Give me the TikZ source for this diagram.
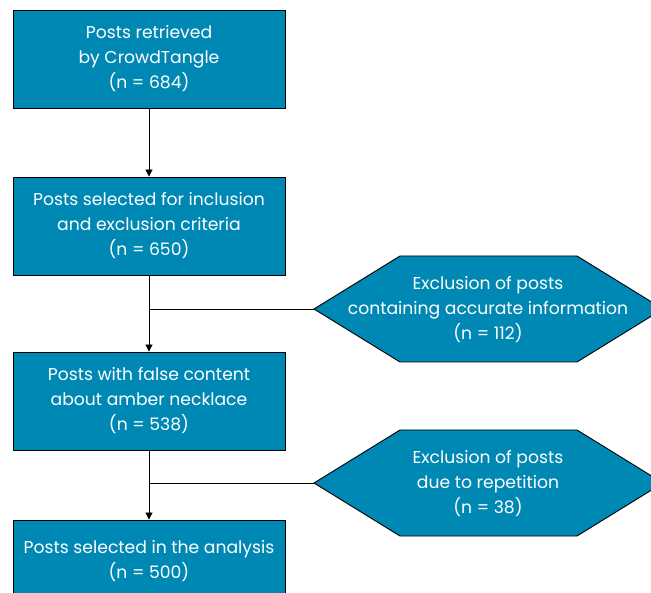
\documentclass[tikz,border=0pt]{standalone}
\usepackage{fontspec}
\setmainfont{Poppins}
\usetikzlibrary{arrows.meta,calc}
\definecolor{boxblue}{RGB}{0,136,181}
\tikzset{
  flowbox/.style={draw=black,line width=0.9pt,fill=boxblue,text=white,minimum width=272pt,minimum height=98pt,inner sep=0pt,align=center,font=\fontsize{17.2}{25}\selectfont},
  hextext/.style={text=white,align=center,inner sep=0pt,font=\fontsize{17.2}{25}\selectfont},
  hexfill/.style={draw=black,line width=0.9pt,fill=boxblue},
  conn/.style={draw=black,line width=0.9pt},
  arr/.style={conn,-{Triangle[length=7pt,width=7pt]}}
}
\begin{document}
\begin{tikzpicture}[x=1pt,y=-1pt]
\useasboundingbox (0,0) rectangle (651,593);
\clip (0,0) rectangle (651,593);
\node[flowbox] (b1) at (149,59) {Posts retrieved\\by CrowdTangle\\(n = 684)};
\node[flowbox] (b2) at (149,226) {Posts selected for inclusion\\and exclusion criteria\\(n = 650)};
\node[flowbox] (b3) at (149,401) {Posts with false content\\about amber necklace\\(n = 538)};
\node[flowbox] (b4) at (149,569) {Posts selected in the analysis\\(n = 500)\\[-6pt]\mbox{}};
% hexagon 1
\coordinate (h1w) at (314,309);
\path[hexfill] (h1w) -- (400,256) -- (577,256) -- (663,309) -- (577,362) -- (400,362) -- cycle;
\node[hextext] (h1) at (488,310) {Exclusion of posts\\containing accurate information\\(n = 112)};
% hexagon 2
\coordinate (h2w) at (314,483);
\path[hexfill] (h2w) -- (400,430) -- (577,430) -- (663,483) -- (577,536) -- (400,536) -- cycle;
\node[hextext] (h2) at (488,484) {Exclusion of posts\\due to repetition\\(n = 38)};
% connectors
\draw[arr] (b1.south) -- (b2.north);
\draw[arr] (b2.south) -- (b3.north);
\draw[arr] (b3.south) -- (b4.north);
\coordinate (j1) at (b2.south |- h1w);
\coordinate (j2) at (b3.south |- h2w);
\draw[conn] (j1) -- (h1w);
\draw[conn] (j2) -- (h2w);
\end{tikzpicture}
\end{document}
